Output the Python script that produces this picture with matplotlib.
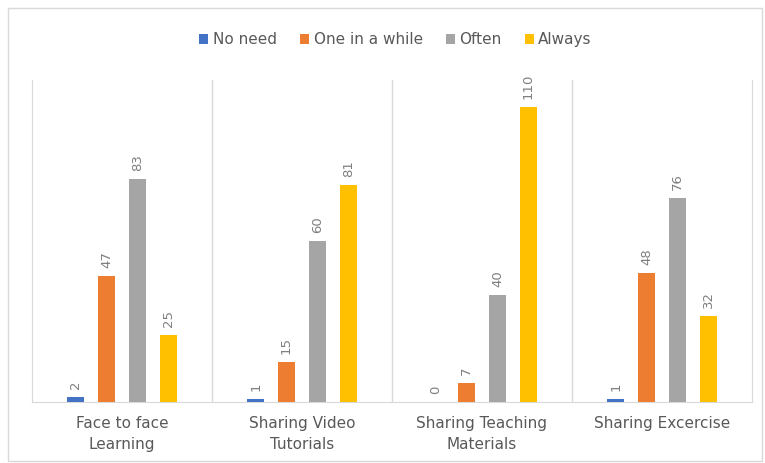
import numpy as np
import matplotlib.pyplot as plt
from matplotlib.patches import Rectangle

categories = ["Face to face\nLearning", "Sharing Video\nTutorials",
              "Sharing Teaching\nMaterials", "Sharing Excercise"]
series = ["No need", "One in a while", "Often", "Always"]
no_need = [2, 1, 0, 1]
one_in_a_while = [47, 15, 7, 48]
often = [83, 60, 40, 76]
always = [25, 81, 110, 32]
colors = ["#4472c4", "#ed7d31", "#a5a5a5", "#ffc000"]

values = [no_need, one_in_a_while, often, always]

fig = plt.figure(figsize=(7.65, 4.63), dpi=100)
ax = fig.add_axes([0.0418, 0.1317, 0.9412, 0.6953])

x = np.arange(len(categories))
offsets = [-0.256, -0.086, 0.086, 0.258]
width = 0.094
for vals, off, col, name in zip(values, offsets, colors, series):
    bars = ax.bar(x + off, vals, width, color=col, label=name, zorder=3)
    for b, v in zip(bars, vals):
        ax.text(b.get_x() + b.get_width() / 2, v + 3, str(v), rotation=90,
                ha="center", va="bottom", fontsize=9.5, color="#7f7f7f")

ax.set_xlim(-0.5, 3.5)
ax.set_ylim(0, 120)
ax.set_yticks([])
ax.set_xticks(x)
ax.set_xticklabels(categories, fontsize=11, color="#595959", linespacing=1.5)
ax.tick_params(axis="x", length=0, pad=10)
ax.spines["top"].set_visible(False)
for s in ["left", "right", "bottom"]:
    ax.spines[s].set_color("#d9d9d9")
for b in [0.5, 1.5, 2.5]:
    ax.axvline(b, color="#d9d9d9", lw=1, zorder=1)

handles, labels = ax.get_legend_handles_labels()
fig.legend(handles, labels, loc="center", bbox_to_anchor=(0.517, 0.914), ncol=4,
           frameon=False, fontsize=11, handlelength=0.6, handleheight=0.6,
           handletextpad=0.3, columnspacing=1.5, labelcolor="#595959")

fig.patches.append(Rectangle((0.011, 0.004), 0.985, 0.978, transform=fig.transFigure,
                             fill=False, edgecolor="#d9d9d9", lw=1))

fig.savefig("out.png", dpi=100)
